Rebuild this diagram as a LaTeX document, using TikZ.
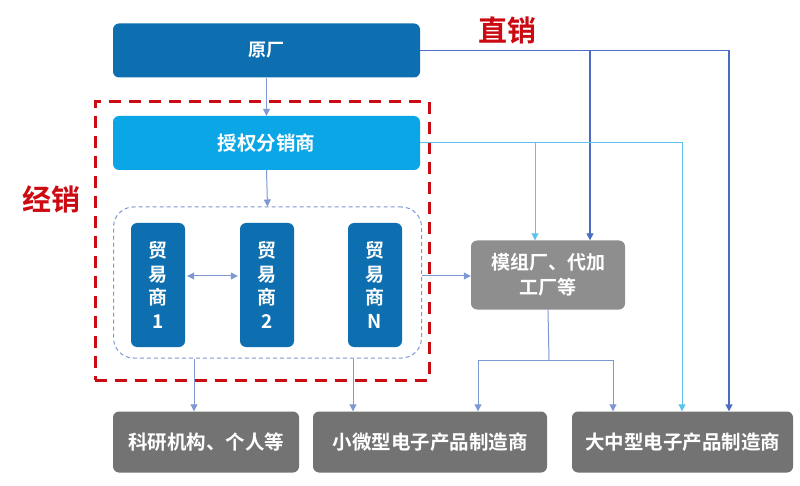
\documentclass[tikz,border=0pt]{standalone}
\usepackage{fontspec}
\newfontfamily\cjk[BoldFont={Noto Sans CJK SC Bold}]{Noto Sans CJK SC}
\usetikzlibrary{arrows.meta,calc}
\definecolor{dblue}{HTML}{0E6FB0}
\definecolor{cyanb}{HTML}{0BA6E6}
\definecolor{gbox}{HTML}{737373}
\definecolor{gboxl}{HTML}{8E8E8E}
\definecolor{lnd}{HTML}{4B6CC0}
\definecolor{lnl}{HTML}{5CC3EE}
\definecolor{lng}{HTML}{7E98D2}
\definecolor{redc}{HTML}{CC0A12}
\tikzset{
  box/.style={rounded corners=6pt, text=white, font=\cjk\bfseries, align=center, inner sep=0pt},
  darr/.style={draw=lnd, line width=1.4pt, -{Triangle[width=7pt,length=7pt]}},
  dln/.style={draw=lnd, line width=1.4pt},
  larr/.style={draw=lnl, line width=1pt, -{Triangle[width=7pt,length=7pt]}},
  lln/.style={draw=lnl, line width=1pt},
  garr/.style={draw=lng, line width=1pt, -{Triangle[width=7pt,length=7pt]}},
  gln/.style={draw=lng, line width=1pt},
  redlab/.style={text=redc, font=\cjk\bfseries\fontsize{29}{29}\selectfont},
}
\begin{document}
\begin{tikzpicture}[x=1pt,y=-1pt]
\useasboundingbox (0,0) rectangle (800,486);
\fill[white] (0,0) rectangle (800,486);
% boxes
\node[box, fill=dblue, minimum width=307pt, minimum height=54pt, font=\cjk\bfseries\fontsize{18}{18}\selectfont] (yc) at (266.5,50.5) {原厂};
\node[box, fill=cyanb, minimum width=307pt, minimum height=54pt, font=\cjk\bfseries\fontsize{19.5}{19.5}\selectfont] (sq) at (266.5,143) {授权分销商};
\node[draw=redc, dashed, dash pattern=on 12pt off 8pt, line width=3pt, minimum width=334pt, minimum height=278pt, inner sep=0pt] (red) at (262,241) {};
\node[draw=lng, dashed, dash pattern=on 4pt off 3pt, line width=1pt, rounded corners=20pt, minimum width=308pt, minimum height=151pt, inner sep=0pt] (inner) at (267.5,282.5) {};
\node[box, fill=dblue, minimum width=54pt, minimum height=124pt, font=\cjk\bfseries\fontsize{19}{23.5}\selectfont] (m1) at (158,285) {贸\\易\\商\\1};
\node[box, fill=dblue, minimum width=54pt, minimum height=124pt, font=\cjk\bfseries\fontsize{19}{23.5}\selectfont] (m2) at (267,285) {贸\\易\\商\\2};
\node[box, fill=dblue, minimum width=54pt, minimum height=124pt, font=\cjk\bfseries\fontsize{19}{23.5}\selectfont] (mn) at (375,285) {贸\\易\\商\\N};
\node[box, fill=gboxl, minimum width=154pt, minimum height=69pt, font=\cjk\bfseries\fontsize{19}{25}\selectfont] (mz) at (548,275) {模组厂、代加\\工厂等};
\node[box, fill=gbox, minimum width=186pt, minimum height=61pt, font=\cjk\bfseries\fontsize{19.5}{19.5}\selectfont] (ky) at (206,442) {科研机构、个人等};
\node[box, fill=gbox, minimum width=234pt, minimum height=61pt, font=\cjk\bfseries\fontsize{19.5}{19.5}\selectfont] (xw) at (430,442) {小微型电子产品制造商};
\node[box, fill=gbox, minimum width=221pt, minimum height=61pt, font=\cjk\bfseries\fontsize{19.5}{19.5}\selectfont] (dz) at (682.5,442) {大中型电子产品制造商};
% labels
\node[redlab] (zx) at (507,30) {直销};
\node[redlab] (jx) at (51,199) {经销};
% coordinates
\coordinate (xa) at (729,0);
\coordinate (xb) at (590,0);
\coordinate (xc) at (682,0);
\coordinate (xd) at (535,0);
\coordinate (xe) at (194,0);
\coordinate (xf) at (353,0);
\coordinate (xg) at (478,0);
\coordinate (xh) at (613,0);
\coordinate (ya) at (0,276);
\coordinate (hj) at (549,360);
% connectors
\draw[garr] (yc.south) -- (sq.north);
\draw[darr] (yc.east) -| (dz.north -| xa);
\draw[darr] (yc.east -| xb) -- (mz.north -| xb);
\draw[larr] (sq.east) -| (dz.north -| xc);
\draw[larr] (sq.east -| xd) -- (mz.north -| xd);
\draw[garr] (sq.south) -- (inner.north);
\draw[garr, {Triangle[width=7pt,length=7pt]}-{Triangle[width=7pt,length=7pt]}] ($(m1.east |- ya)+(2,0)$) -- ($(m2.west |- ya)+(-2,0)$);
\draw[garr] (inner.east |- ya) -- (mz.west |- ya);
\draw[garr] (inner.south -| xe) -- (ky.north -| xe);
\draw[garr] (inner.south -| xf) -- (xw.north -| xf);
\draw[gln] (mz.south) -- (hj);
\draw[garr] (hj) -| (xw.north -| xg);
\draw[garr] (hj) -| (dz.north -| xh);
\end{tikzpicture}
\end{document}
